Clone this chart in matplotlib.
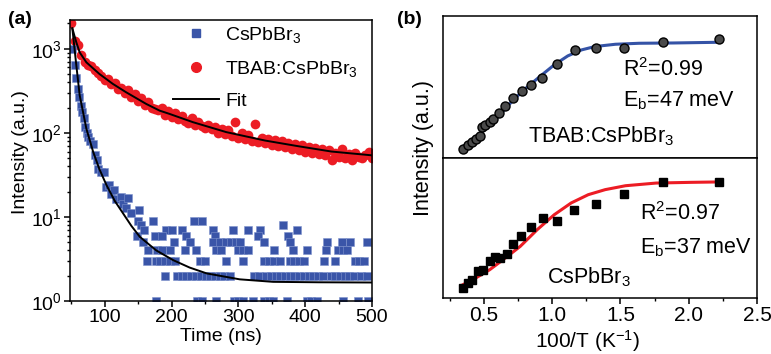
import matplotlib
matplotlib.use("Agg")
import matplotlib.pyplot as plt
from matplotlib.lines import Line2D
from matplotlib.ticker import MultipleLocator, LogLocator, NullLocator, NullFormatter

plt.rcParams['font.family'] = ['Liberation Sans', 'DejaVu Sans']
plt.rcParams['mathtext.fontset'] = 'custom'
plt.rcParams['mathtext.rm'] = 'Liberation Sans'
plt.rcParams['mathtext.it'] = 'Liberation Sans:italic'
plt.rcParams['axes.linewidth'] = 1.1

BLUE = '#3a55a8'
RED = '#ec1c24'

# ---- panel (a): PL decay ----
# TBAB:CsPbBr3, 5 ns grid starting at 50 ns
red_t = list(range(50, 501, 5))
red_v = [2000, 1250, 1100, 850, 700, 640, 620, 560, 520, 470,
         430, 440, 380, 390, 330, 340, 300, 320, 270, 290,
         240, 260, 215, 230, 200, 190, 185, 200, 165, 180,
         155, 170, 145, 160, 140, 130, 150, 125, 135, 120,
         115, 125, 110, 118, 100, 112, 96, 108, 92, 135,
         88, 100, 85, 95, 80, 128, 78, 88, 76, 85,
         72, 82, 70, 80, 68, 76, 64, 74, 62, 72,
         60, 68, 58, 66, 56, 64, 55, 62, 48, 58,
         52, 64, 50, 56, 47, 58, 52, 50, 55, 60, 50]

# CsPbBr3, fast decay part
blue_t = [51, 55, 57, 60, 62, 64.5, 66.5, 69, 71, 73, 75, 78, 82, 86, 88, 90,
          94.5, 99.5, 102, 107, 109.5, 114.5, 117, 124.5, 127, 132, 134.5,
          139.5, 148, 149.5, 152, 154.5, 159.5]
blue_v = [1000, 640, 450, 330, 265, 210, 175, 150, 118, 100, 90, 80, 74, 54, 47, 37.5,
          34, 34, 22.7, 23.8, 18.9, 20.7, 16.5, 17.3, 14.4, 12.6, 17,
          11, 6, 9, 12, 8, 7]

# CsPbBr3, tail: counts sit on integer levels
tail_levels = [9, 8, 7, 6, 5, 4, 3, 2, 1]
tail_times = [
    [172, 233, 245],
    [367],
    [192, 201, 215, 262, 292, 315, 332, 388],
    [175, 185, 222, 265, 330, 375],
    [157, 204, 228, 262, 272, 282, 289, 296, 303, 339, 377, 432, 455, 467, 493],
    [164, 178, 186, 197, 220, 236, 266, 274, 300, 307, 314, 353, 382, 403, 431, 449, 456, 463],
    [163, 176, 183, 190, 197, 205, 243, 250, 282, 307, 339, 346, 353, 362, 377, 384,
     391, 398, 428, 444, 474, 481, 488],
    [190, 208, 215, 222, 229, 236, 244, 251, 258, 265, 272, 279, 287, 323, 331, 342,
     349, 356, 363, 370, 377, 384, 391, 398, 405, 412, 419, 426, 438, 445, 452, 459,
     466, 473, 484, 493],
    [177, 238, 246, 267, 293, 300, 307, 322, 339, 346, 352, 373, 402, 409, 417, 457,
     479, 494],
]

# fit curves
fit_red_t = [51.5, 57.5, 62.5, 72.5, 92, 112, 132, 162, 182, 197, 232, 282, 340, 389, 439, 500]
fit_red_v = [1750, 1190, 906, 690, 502, 383, 304, 221, 184, 168, 134, 102, 81, 69.5, 60, 54]
fit_blue_t = [51.5, 57.5, 62.5, 72.5, 82.5, 92, 102.5, 115, 127.5, 140, 152.5, 177,
              202.5, 227, 252.5, 302, 352, 420, 500]
fit_blue_v = [1750, 630, 280, 112, 60, 37, 24, 15.5, 11, 7.8, 5.8, 4.0,
              3.06, 2.5, 2.13, 1.81, 1.69, 1.67, 1.66]

# ---- panel (b): intensity vs 1/T ----
tbab_x = [0.348, 0.381, 0.413, 0.443, 0.468, 0.483, 0.507, 0.542, 0.567, 0.612, 0.654,
          0.711, 0.779, 0.846, 0.928, 1.035, 1.164, 1.318, 1.525, 1.811, 2.221]
tbab_y = [0.063, 0.089, 0.110, 0.133, 0.157, 0.218, 0.234, 0.251, 0.274, 0.316, 0.363,
          0.422, 0.475, 0.515, 0.562, 0.663, 0.761, 0.778, 0.773, 0.815, 0.838]
tbab_fit_x = [0.348, 0.418, 0.517, 0.617, 0.716, 0.816, 0.915, 1.015, 1.114, 1.214,
              1.313, 1.463, 1.637, 1.886, 2.221]
tbab_fit_y = [0.082, 0.129, 0.211, 0.304, 0.410, 0.499, 0.578, 0.656, 0.719, 0.761,
              0.785, 0.801, 0.808, 0.810, 0.815]

cs_x = [0.346, 0.384, 0.416, 0.453, 0.493, 0.542, 0.579, 0.617, 0.666, 0.716, 0.771,
        0.848, 0.933, 1.032, 1.157, 1.318, 1.525, 1.811, 2.221]
cs_y = [0.071, 0.107, 0.131, 0.190, 0.202, 0.262, 0.293, 0.286, 0.316, 0.386, 0.440,
        0.507, 0.574, 0.552, 0.626, 0.674, 0.745, 0.829, 0.829]
cs_fit_x = [0.346, 0.440, 0.542, 0.641, 0.766, 0.890, 1.015, 1.139, 1.264, 1.388,
            1.537, 1.761, 2.010, 2.221]
cs_fit_y = [0.095, 0.143, 0.202, 0.274, 0.369, 0.488, 0.595, 0.679, 0.738, 0.774,
            0.802, 0.821, 0.826, 0.829]

W, H = 771, 354
fig = plt.figure(figsize=(W / 100, H / 100), dpi=100)


def box(x0, y0, x1, y1):
    # pixel box (left, top, right, bottom) -> figure fraction
    return [x0 / W, 1 - y1 / H, (x1 - x0) / W, (y1 - y0) / H]


# (a)
ax = fig.add_axes(box(70, 20, 372, 301))
ax.plot(red_t, red_v, 'o', color=RED, ms=7, mec=RED, mew=0, zorder=2)
ax.plot(blue_t, blue_v, 's', color=BLUE, ms=5.6, mec='#7f93cc', mew=0.4, zorder=2)
for lev, ts in zip(tail_levels, tail_times):
    ax.plot(ts, [lev] * len(ts), 's', color=BLUE, ms=5.6, mec='#7f93cc', mew=0.4, zorder=2)
ax.plot(fit_red_t, fit_red_v, '-', color='black', lw=1.4, zorder=3)
ax.plot(fit_blue_t, fit_blue_v, '-', color='black', lw=1.4, zorder=3)
ax.set_yscale('log')
ax.set_xlim(48, 500)
ax.set_ylim(1, 2200)
ax.xaxis.set_major_locator(MultipleLocator(100))
ax.xaxis.set_minor_locator(MultipleLocator(50))
ax.yaxis.set_major_locator(LogLocator(base=10, numticks=10))
ax.yaxis.set_minor_locator(LogLocator(base=10, subs=range(2, 10), numticks=10))
ax.yaxis.set_minor_formatter(NullFormatter())
ax.tick_params(axis='both', which='major', direction='out', length=4, width=1.1,
               labelsize=14, pad=2)
ax.tick_params(axis='both', which='minor', direction='out', length=2.5, width=1.0)
ax.set_xlabel('Time (ns)', fontsize=14, labelpad=1)
fig.text(21 / W, 1 - 152 / H, 'Intensity (a.u.)', rotation=90, fontsize=14,
         ha='center', va='center')

handles = [Line2D([], [], ls='none', marker='s', color=BLUE, ms=5.6),
           Line2D([], [], ls='none', marker='o', color=RED, ms=7),
           Line2D([], [], color='black', lw=1.4)]
labels = ['CsPbBr$_3$', 'TBAB:CsPbBr$_3$', 'Fit']
ax.legend(handles, labels, loc='upper left', bbox_to_anchor=(0.295, 1.03), frameon=False,
          fontsize=14, handlelength=2.4, handletextpad=0.3, labelspacing=0.7,
          borderpad=0.2)
fig.text(8 / W, 1 - 20 / H, '(a)', fontsize=14, fontweight='bold', va='center')

# (b) top
axt = fig.add_axes(box(443, 16, 757, 158))
axt.plot(tbab_fit_x, tbab_fit_y, '-', color='#3553a6', lw=2.2, zorder=2)
axt.plot(tbab_x, tbab_y, 'o', color='#4a4a4a', ms=6.5, mec='black', mew=1.0, zorder=3)
axt.set_xlim(0.2, 2.5)
axt.set_ylim(0, 1)
axt.xaxis.set_major_locator(NullLocator())
axt.yaxis.set_major_locator(NullLocator())
axt.text(0.573, 0.62, 'R$^2$=0.99', transform=axt.transAxes, fontsize=15.5, va='center')
axt.text(0.573, 0.40, 'E$_\\mathrm{b}$=47 meV', transform=axt.transAxes, fontsize=15.5,
         va='center')
axt.text(0.27, 0.15, 'TBAB:CsPbBr$_3$', transform=axt.transAxes, fontsize=15.5,
         va='center')

# (b) bottom
axb = fig.add_axes(box(443, 158, 757, 298))
axb.plot(cs_fit_x, cs_fit_y, '-', color='#ec1c24', lw=2.2, zorder=2)
axb.plot(cs_x, cs_y, 's', color='black', ms=6, zorder=3)
axb.set_xlim(0.2, 2.5)
axb.set_ylim(0, 1)
axb.yaxis.set_major_locator(NullLocator())
axb.xaxis.set_major_locator(MultipleLocator(0.5))
axb.xaxis.set_minor_locator(MultipleLocator(0.25))
axb.tick_params(axis='x', which='major', direction='out', length=4, width=1.1,
                labelsize=15, pad=1.5)
axb.tick_params(axis='x', which='minor', direction='out', length=2.5, width=1.0)
axb.text(0.627, 0.60, 'R$^2$=0.97', transform=axb.transAxes, fontsize=15.5, va='center')
axb.text(0.627, 0.36, 'E$_\\mathrm{b}$=37 meV', transform=axb.transAxes, fontsize=15.5,
         va='center')
axb.text(0.33, 0.15, 'CsPbBr$_3$', transform=axb.transAxes, fontsize=15.5, va='center')
fig.text(588 / W, 1 - 341 / H, '100/T (K$^{-1}$)', fontsize=15, ha='center',
         va='center')
fig.text(423 / W, 1 - 148 / H, 'Intensity (a.u.)', rotation=90, fontsize=15.5,
         ha='center', va='center')
fig.text(397 / W, 1 - 20 / H, '(b)', fontsize=14, fontweight='bold', va='center')

fig.savefig('out.png', dpi=100)
